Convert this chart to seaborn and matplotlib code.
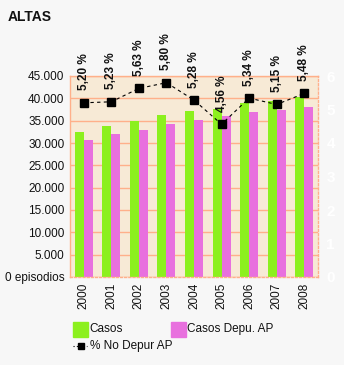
import matplotlib
matplotlib.use("Agg")
import matplotlib.pyplot as plt
import matplotlib.patches as mpatches
from matplotlib.lines import Line2D
from matplotlib.ticker import FuncFormatter, MultipleLocator
import seaborn as sns
import pandas as pd

years = ["2000", "2001", "2002", "2003", "2004", "2005", "2006", "2007", "2008"]
casos = [32500, 33800, 34900, 36300, 37150, 37600, 38950, 39350, 40250]
casos_depu = [30700, 32000, 32900, 34250, 35150, 36050, 36950, 37400, 38050]
pct_no_depur = [5.20, 5.23, 5.63, 5.80, 5.28, 4.56, 5.34, 5.15, 5.48]
series_names = ["Casos", "Casos Depu. AP"]
line_name = "% No Depur AP"

GREEN = "#8cf01e"
PINK = "#e870de"
BG = "#f7f7f7"
PLOT_BG = "#f7ead6"
GRID = "#ffb08a"

sns.set_theme(style="white")
plt.rcParams["font.family"] = ["Liberation Sans", "DejaVu Sans"]

df = pd.DataFrame({
    "year": years * 2,
    "value": casos + casos_depu,
    "serie": [series_names[0]] * len(years) + [series_names[1]] * len(years),
})

fig = plt.figure(figsize=(3.44, 3.65), dpi=100, facecolor=BG)
ax = fig.add_axes([70 / 344, 1 - 277 / 365, 248 / 344, 201 / 365])
ax.set_facecolor(PLOT_BG)

sns.barplot(data=df, x="year", y="value", hue="serie", order=years,
            hue_order=series_names, palette=[GREEN, PINK], width=0.65,
            saturation=1, ax=ax, legend=False, linewidth=0)

ax.set_ylim(0, 45000)
ax.set_xlim(-0.5, len(years) - 0.5)
ax.yaxis.set_major_locator(MultipleLocator(5000))
ax.yaxis.set_major_formatter(FuncFormatter(
    lambda v, p: "0 episodios" if v == 0 else f"{int(v):,}".replace(",", ".")))
ax.grid(axis="y", color=GRID, linewidth=1)
ax.set_axisbelow(True)
ax.set_xlabel("")
ax.set_ylabel("")
ax.tick_params(axis="y", length=0, labelsize=8.5, pad=4, colors="#111111")
ax.tick_params(axis="x", length=0, labelsize=8.5, pad=4, colors="#111111")
plt.setp(ax.get_xticklabels(), rotation=90)

for side in ["left", "top"]:
    ax.spines[side].set_color(GRID)
    ax.spines[side].set_linewidth(1)
for side in ["right", "bottom"]:
    ax.spines[side].set_color(GRID)
    ax.spines[side].set_linewidth(1)
    ax.spines[side].set_linestyle((0, (1.5, 1.5)))

ax2 = ax.twinx()
ax2.set_ylim(0, 6)
ax2.plot(range(len(years)), pct_no_depur, color="black", linestyle=(0, (3, 3)),
         linewidth=0.8, marker="s", markersize=6, zorder=5)
ax2.yaxis.set_major_locator(MultipleLocator(1))
ax2.tick_params(axis="y", length=0, labelsize=11, colors="white", pad=6)
for lbl in ax2.get_yticklabels():
    lbl.set_fontweight("bold")
for s in ax2.spines.values():
    s.set_visible(False)

for i, v in enumerate(pct_no_depur):
    ax2.annotate(f"{v:.2f} %".replace(".", ","), (i, v), xytext=(0, 9),
                 textcoords="offset points", rotation=90, ha="center",
                 va="bottom", fontsize=8.5, fontweight="bold", color="#111111",
                 annotation_clip=False)

fig.text(8 / 344, 1 - 17 / 365, "ALTAS", fontsize=10, fontweight="bold",
         va="center", ha="left", color="#111111")

# legend
W, H = 344, 365
def rect(x, y, c):
    fig.patches.append(mpatches.Rectangle((x / W, 1 - (y + 15) / H), 15 / W, 15 / H,
                                          transform=fig.transFigure, color=c))
rect(73, 322, GREEN)
fig.text(89 / W, 1 - 329 / H, series_names[0], fontsize=8.5, va="center", color="#111111")
rect(171, 322, PINK)
fig.text(187 / W, 1 - 329 / H, series_names[1], fontsize=8.5, va="center", color="#111111")
fig.lines.append(Line2D([73 / W, 87 / W], [1 - 346 / H, 1 - 346 / H],
                        transform=fig.transFigure, color="black", linestyle=(0, (1, 2)),
                        linewidth=0.8))
fig.lines.append(Line2D([81 / W], [1 - 346 / H], transform=fig.transFigure,
                        marker="s", markersize=5, color="black"))
fig.text(90 / W, 1 - 346 / H, line_name, fontsize=8.5, va="center", color="#111111")

fig.savefig("out.png", dpi=100, facecolor=BG)
